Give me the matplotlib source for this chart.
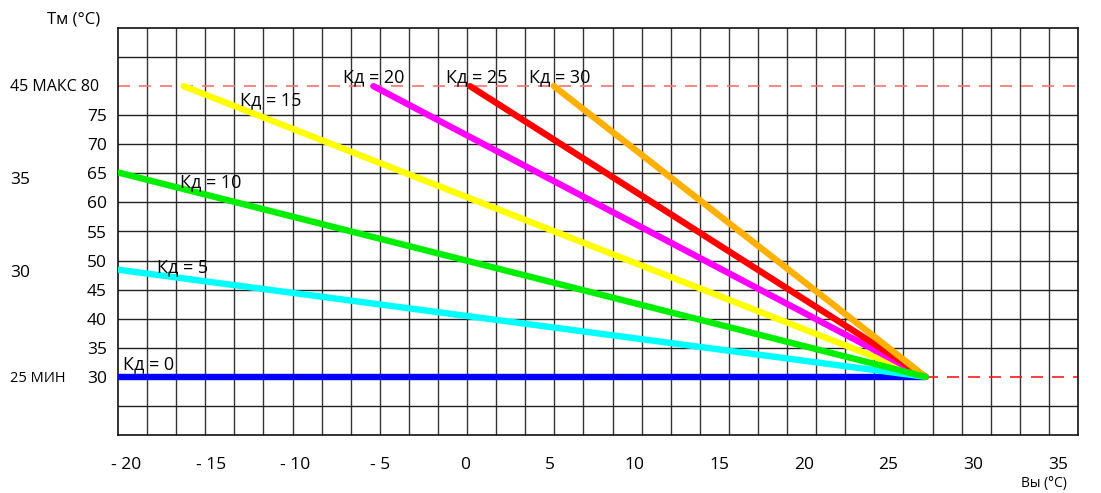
import numpy as np
import matplotlib.pyplot as plt

plt.rcParams['font.family'] = ['Open Sans', 'DejaVu Sans']

W, H = 1101, 493

# ---------- data -------------------------------------------------------------
x_ticks = [-20, -15, -10, -5, 0, 5, 10, 15, 20, 25, 30, 35]
x_labels = ['- 20', '- 15', '- 10', '- 5', '0', '5', '10', '15', '20', '25', '30', '35']
y_ticks = [30, 35, 40, 45, 50, 55, 60, 65, 70, 75]

kd = [0, 5, 10, 15, 20, 25, 30]
start_x = [-20.4, -20.4, -20.4, -16.6, -5.4, 0.3, 5.25]   # outdoor temp at curve start
start_y = [30, 48.4, 65.1, 80, 80, 80, 80]                 # flow temp at curve start
end_x, end_y = 27.2, 30                                    # all curves meet here
t_max, t_min = 80, 30
colors = ['#0000ff', '#00ffff', '#00ee00', '#ffff00', '#ff00ff', '#ff0000', '#ffb000']
draw_order = [0, 1, 3, 4, 5, 6, 2]

# label anchors (left, middle) for "Кд = n"
lab_x = [-20.2, -18.2, -16.8, -13.3, -7.2, -1.1, 3.8]
lab_y = [32.1, 48.8, 63.5, 77.5, 81.6, 81.6, 81.6]

# ---------- figure -----------------------------------------------------------
fig = plt.figure(figsize=(W / 100, H / 100), dpi=100)
ax = fig.add_axes([118 / W, 1 - 435 / H, 960 / W, 407 / H])

x0, x1 = -20.48, 36.19
ax.set_xlim(x0, x1)
ax.set_ylim(20, 90)

# grid: square cells, 33 columns x 14 rows (rows at min/max are dashed instead)
for gx in np.linspace(x0, x1, 34)[1:-1]:
    ax.axvline(gx, color='#333333', lw=1.0, zorder=1)
for gy in range(25, 90, 5):
    if gy in (t_max, t_min):
        continue
    ax.axhline(gy, color='#222222', lw=1.0, zorder=1)

# max / min dashed lines
ax.axhline(t_max, color='#ff7070', lw=1.2, dashes=(7.2, 5.4), zorder=2)
ax.plot([end_x, x1], [end_y, end_y], color='#ff1a1a', lw=1.2, dashes=(7.2, 5.4), zorder=2)

for i in draw_order:
    ax.plot([start_x[i], end_x], [start_y[i], end_y], color=colors[i], lw=4.6,
            solid_capstyle='round', zorder=3)

for i, k in enumerate(kd):
    ax.text(lab_x[i], lab_y[i], f'Кд = {k}', fontsize=13, ha='left', va='center', zorder=4)

ax.set_xticks(x_ticks)
ax.set_xticklabels(x_labels, fontsize=12.5)
ax.set_yticks(y_ticks)
ax.set_yticklabels([str(v) for v in y_ticks], fontsize=12.5)
ax.tick_params(axis='x', length=0, pad=16)
ax.tick_params(axis='y', length=0, pad=8)
for s in ax.spines.values():
    s.set_color('#111111')
    s.set_linewidth(1.2)

# side annotations
fig.text(10 / W, 1 - 87 / H, '45 МАКС 80', fontsize=11.5, ha='left', va='center')
fig.text(10 / W, 1 - 180 / H, '35', fontsize=12.5, ha='left', va='center')
fig.text(10 / W, 1 - 273 / H, '30', fontsize=12.5, ha='left', va='center')
fig.text(10 / W, 1 - 378 / H, '25 МИН', fontsize=10.5, ha='left', va='center')
fig.text(47 / W, 1 - 20 / H, 'Тм (°C)', fontsize=12, ha='left', va='center')
fig.text(1044 / W, 1 - 483 / H, 'Вы (°C)', fontsize=10, ha='center', va='center')

fig.savefig('out.png', dpi=100)
